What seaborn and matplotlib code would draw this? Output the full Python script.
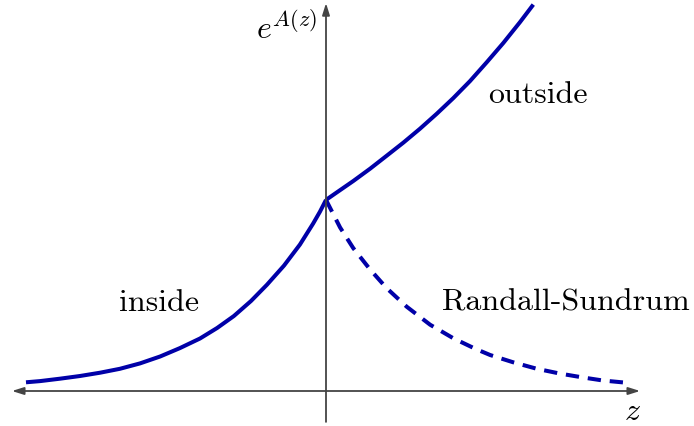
import matplotlib
matplotlib.use("Agg")
import matplotlib.pyplot as plt
import seaborn as sns
import pandas as pd

sns.set_style("white")
plt.rcParams["mathtext.fontset"] = "cm"
plt.rcParams["font.family"] = ["cmr10", "DejaVu Serif"]
plt.rcParams["axes.unicode_minus"] = False

# Warp factor e^{A(z)} for the three configurations
inside_z = [-1.000, -0.953, -0.887, -0.820, -0.753, -0.687, -0.620, -0.553, -0.487,
            -0.420, -0.363, -0.307, -0.250, -0.197, -0.140, -0.087, -0.043, -0.020, 0.0]
inside_w = [0.029, 0.033, 0.041, 0.050, 0.061, 0.074, 0.092, 0.115, 0.143,
            0.175, 0.210, 0.250, 0.300, 0.354, 0.418, 0.488, 0.558, 0.598, 0.637]

outside_z = [0.0, 0.036, 0.091, 0.147, 0.202, 0.258, 0.313, 0.369, 0.424,
             0.480, 0.536, 0.591, 0.647, 0.691]
outside_w = [0.637, 0.662, 0.700, 0.741, 0.784, 0.828, 0.874, 0.924, 0.976,
             1.033, 1.096, 1.160, 1.230, 1.288]

rs_z = [0.0, 0.047, 0.091, 0.147, 0.202, 0.269, 0.347, 0.424, 0.497,
        0.547, 0.623, 0.703, 0.780, 0.857, 0.923, 0.997]
rs_w = [0.637, 0.545, 0.476, 0.405, 0.343, 0.281, 0.221, 0.176, 0.141,
        0.120, 0.096, 0.074, 0.058, 0.045, 0.035, 0.028]

labels = ["inside", "outside", "Randall-Sundrum"]

blue = "#0000a8"
axis_col = "#444444"

fig = plt.figure(figsize=(6.94, 4.26), dpi=100)
ax = fig.add_axes([0, 0, 1, 1])
ax.set_xlim(-326 / 300, (694 - 326) / 300)
ax.set_ylim((391 - 426) / 300, 391 / 300)
ax.set_axis_off()

# coordinate axes with arrow heads
arrow = dict(arrowstyle="-|>,head_length=0.7,head_width=0.22", color=axis_col,
             lw=1.3, shrinkA=0, shrinkB=0)
ax.annotate("", xy=(-1.047, 0), xytext=(0, 0), arrowprops=arrow)
ax.annotate("", xy=(1.047, 0), xytext=(0, 0), arrowprops=arrow)
ax.annotate("", xy=(0, 1.293), xytext=(0, -0.103), arrowprops=arrow)

df_in = pd.DataFrame({"z": inside_z, "w": inside_w})
df_out = pd.DataFrame({"z": outside_z, "w": outside_w})
df_rs = pd.DataFrame({"z": rs_z, "w": rs_w})

sns.lineplot(data=df_in, x="z", y="w", sort=False, color=blue, lw=2.9, ax=ax,
             solid_capstyle="butt", solid_joinstyle="round")
sns.lineplot(data=df_out, x="z", y="w", sort=False, color=blue, lw=2.9, ax=ax,
             solid_capstyle="butt", solid_joinstyle="round")
sns.lineplot(data=df_rs, x="z", y="w", sort=False, color=blue, lw=2.9, ax=ax,
             dashes=False, linestyle=(0, (3.3, 2.2)), dash_capstyle="butt")

fs = 23
txt = dict(fontsize=fs, ha="center", va="center", color="black")
ax.text(-0.557, 0.293, labels[0], **txt)
ax.text(0.707, 0.987, labels[1], **txt)
ax.text(0.80, 0.293, labels[2], **txt)
ax.text(-0.13, 1.21, r"$e^{A(z)}$", **txt)
ax.text(1.02, -0.07, r"$z$", **txt)

fig.savefig("out.png", dpi=100)
